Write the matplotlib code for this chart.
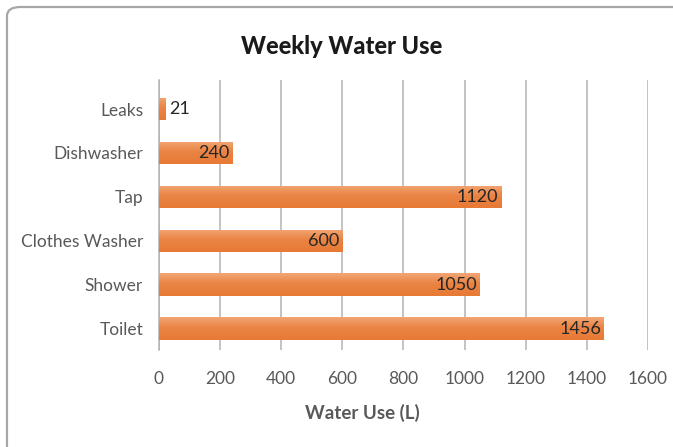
import numpy as np
import matplotlib
matplotlib.use("Agg")
import matplotlib.pyplot as plt
from matplotlib.colors import LinearSegmentedColormap
from matplotlib.patches import FancyBboxPatch

# -------------------------
# Data
# -------------------------
categories = ["Toilet", "Shower", "Clothes Washer", "Tap", "Dishwasher", "Leaks"]
water_use = [1456, 1050, 600, 1120, 240, 21]
x_ticks = [0, 200, 400, 600, 800, 1000, 1200, 1400, 1600]

plt.rcParams["font.family"] = ["Lato", "DejaVu Sans"]

fig = plt.figure(figsize=(6.73, 4.47), dpi=100)

# rounded chart border (runs off the right / bottom edge like the original)
border = FancyBboxPatch((7 / 673, -0.2), 1.2, 1.2 - 7 / 447,
                        boxstyle="round,pad=0,rounding_size=0.02",
                        transform=fig.transFigure, fill=False,
                        edgecolor="#a6a6a6", linewidth=1.6)
fig.patches.append(border)

ax = fig.add_axes([159 / 673, 1 - 350 / 447, 489 / 673, 270 / 447])

bar_h = 0.52
ypos = np.arange(len(categories))
bars = ax.barh(ypos, water_use, height=bar_h, color="#e97f3f", zorder=2)

# mostly solid orange, lighter toward the top edge
grad_cmap = LinearSegmentedColormap.from_list(
    "bar", [(0, "#e77a35"), (0.55, "#ea8444"), (1, "#f1a674")])
grad = np.linspace(0, 1, 64).reshape(-1, 1)
for b in bars:
    x0, y0 = b.get_x(), b.get_y()
    w, h = b.get_width(), b.get_height()
    im = ax.imshow(grad, cmap=grad_cmap, extent=(x0, x0 + w, y0, y0 + h),
                   aspect="auto", origin="lower", zorder=3)
    im.set_clip_path(b)

# value labels
for y, v in zip(ypos, water_use):
    if v < 100:
        ax.text(v + 12, y, str(v), va="center", ha="left", fontsize=13,
                color="#262626", zorder=4)
    else:
        ax.text(v - 10, y, str(v), va="center", ha="right", fontsize=13,
                color="#262626", zorder=4)

ax.set_xlim(0, 1600)
ax.set_ylim(-0.48, 5.66)
ax.set_xticks(x_ticks)
ax.set_yticks(ypos)
ax.set_yticklabels(categories)
ax.tick_params(axis="both", length=0, labelsize=12.5, labelcolor="#595959")
ax.tick_params(axis="y", pad=11.5)
ax.tick_params(axis="x", pad=15)
ax.grid(axis="x", color="#b3b3b3", linewidth=1.1, zorder=0)
ax.set_axisbelow(True)
for s in ["top", "right", "bottom"]:
    ax.spines[s].set_visible(False)
ax.spines["left"].set_color("#b3b3b3")
ax.spines["left"].set_linewidth(1.1)

fig.text(362 / 673, 1 - 413 / 447, "Water Use (L)", ha="center", va="center",
         fontsize=13.5, fontweight="bold", color="#595959")

fig.text(342 / 673, 1 - 47 / 447, "Weekly Water Use", ha="center", va="center",
         fontsize=17, fontweight="black", color="#1a1a1a")

fig.savefig("out.png", dpi=100)
